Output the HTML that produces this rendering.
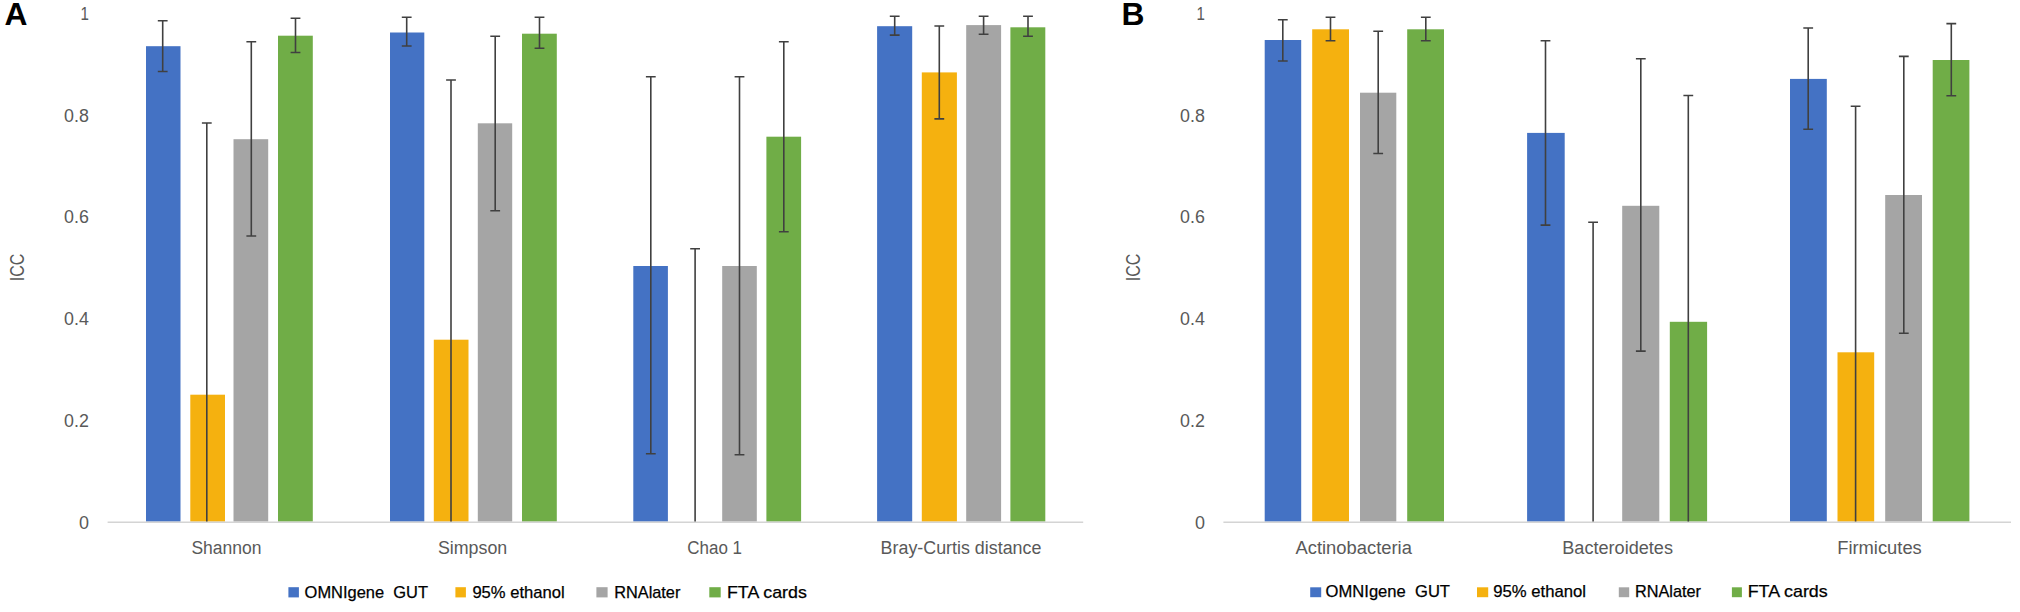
<!DOCTYPE html>
<html lang="en">
<head>
<meta charset="utf-8">
<title>ICC by stool collection method</title>
<style>
html,body{margin:0;padding:0;background:#fff;}
body{width:2020px;height:612px;overflow:hidden;}
svg{display:block;}
.ax{font-family:"Liberation Sans",sans-serif;font-size:17.6px;fill:#595959;}
.lg{font-family:"Liberation Sans",sans-serif;font-size:16.6px;fill:#000;stroke:#000;stroke-width:0.25;}
.pl{font-family:"Liberation Sans",sans-serif;font-size:31.8px;font-weight:700;fill:#000;}
.eb{stroke:#404040;stroke-width:1.6;fill:none;}
.axl{stroke:#d4d4d4;stroke-width:1.6;}
</style>
</head>
<body>
<svg width="2020" height="612" viewBox="0 0 2020 612">
<rect x="0" y="0" width="2020" height="612" fill="#ffffff"/>

<g shape-rendering="auto">
<rect x="146" y="46.2" width="34.5" height="475.4" fill="#4472c4"/>
<rect x="190.3" y="394.7" width="34.7" height="126.9" fill="#f5b10f"/>
<rect x="233.5" y="139.2" width="34.7" height="382.4" fill="#a5a5a5"/>
<rect x="278" y="35.7" width="34.8" height="485.9" fill="#70ad47"/>
<rect x="390" y="32.5" width="34.3" height="489.1" fill="#4472c4"/>
<rect x="433.8" y="339.7" width="34.7" height="181.9" fill="#f5b10f"/>
<rect x="477.8" y="123.3" width="34.4" height="398.3" fill="#a5a5a5"/>
<rect x="522" y="33.7" width="34.8" height="487.9" fill="#70ad47"/>
<rect x="633.3" y="266" width="34.6" height="255.6" fill="#4472c4"/>
<rect x="722.2" y="266" width="34.6" height="255.6" fill="#a5a5a5"/>
<rect x="766.4" y="136.7" width="34.7" height="384.9" fill="#70ad47"/>
<rect x="877.1" y="26.2" width="35.1" height="495.4" fill="#4472c4"/>
<rect x="921.8" y="72.4" width="35.1" height="449.2" fill="#f5b10f"/>
<rect x="966.2" y="25.1" width="34.9" height="496.5" fill="#a5a5a5"/>
<rect x="1010.4" y="27.3" width="34.9" height="494.3" fill="#70ad47"/>
<rect x="1264.7" y="40" width="36.5" height="481.6" fill="#4472c4"/>
<rect x="1312.2" y="29.3" width="36.8" height="492.3" fill="#f5b10f"/>
<rect x="1360" y="92.7" width="36.3" height="428.9" fill="#a5a5a5"/>
<rect x="1407.2" y="29.3" width="36.8" height="492.3" fill="#70ad47"/>
<rect x="1527.1" y="132.9" width="37.6" height="388.7" fill="#4472c4"/>
<rect x="1622.2" y="205.8" width="37.1" height="315.8" fill="#a5a5a5"/>
<rect x="1669.8" y="321.8" width="37.3" height="199.8" fill="#70ad47"/>
<rect x="1790" y="78.9" width="36.8" height="442.7" fill="#4472c4"/>
<rect x="1837.5" y="352.3" width="36.7" height="169.3" fill="#f5b10f"/>
<rect x="1885.2" y="195" width="36.8" height="326.6" fill="#a5a5a5"/>
<rect x="1932.7" y="60" width="36.7" height="461.6" fill="#70ad47"/>
</g>
<line class="axl" x1="107.6" y1="522.2" x2="1083.2" y2="522.2"/>
<line class="axl" x1="1223.4" y1="522.2" x2="2011" y2="522.2"/>
<g class="eb">
<path d="M157.79999999999998 20.7H167.6M162.7 20.7V71.5M157.79999999999998 71.5H167.6"/>
<path d="M201.9 123H211.70000000000002M206.8 123V521.6"/>
<path d="M246.4 41.7H256.2M251.3 41.7V236M246.4 236H256.2"/>
<path d="M290.6 18.3H300.4M295.5 18.3V52.5M290.6 52.5H300.4"/>
<path d="M401.8 17.3H411.59999999999997M406.7 17.3V46M401.8 46H411.59999999999997"/>
<path d="M446.1 80H455.9M451 80V521.6"/>
<path d="M490.3 36.3H500.09999999999997M495.2 36.3V210.7M490.3 210.7H500.09999999999997"/>
<path d="M534.6 17.3H544.4M539.5 17.3V48.3M534.6 48.3H544.4"/>
<path d="M645.9 76.7H655.6999999999999M650.8 76.7V453.7M645.9 453.7H655.6999999999999"/>
<path d="M690.2 248.7H700.0M695.1 248.7V521.6"/>
<path d="M734.6 76.7H744.4M739.5 76.7V454.7M734.6 454.7H744.4"/>
<path d="M778.9 41.7H788.6999999999999M783.8 41.7V231.8M778.9 231.8H788.6999999999999"/>
<path d="M889.8000000000001 16.2H899.6M894.7 16.2V35.1M889.8000000000001 35.1H899.6"/>
<path d="M934.4 26H944.1999999999999M939.3 26V118.9M934.4 118.9H944.1999999999999"/>
<path d="M978.7 16.2H988.5M983.6 16.2V34.2M978.7 34.2H988.5"/>
<path d="M1023.1 16.2H1032.9M1028 16.2V36.2M1023.1 36.2H1032.9"/>
<path d="M1277.8999999999999 19.7H1287.7M1282.8 19.7V61M1277.8999999999999 61H1287.7"/>
<path d="M1325.6 17.3H1335.4M1330.5 17.3V40.7M1325.6 40.7H1335.4"/>
<path d="M1373.3 31.2H1383.1000000000001M1378.2 31.2V153.5M1373.3 153.5H1383.1000000000001"/>
<path d="M1420.8999999999999 17.3H1430.7M1425.8 17.3V40.7M1420.8999999999999 40.7H1430.7"/>
<path d="M1540.6 40.7H1550.4M1545.5 40.7V225.1M1540.6 225.1H1550.4"/>
<path d="M1588.1999999999998 222.2H1598.0M1593.1 222.2V521.6"/>
<path d="M1635.8999999999999 58.7H1645.7M1640.8 58.7V351.1M1635.8999999999999 351.1H1645.7"/>
<path d="M1683.3999999999999 95.5H1693.2M1688.3 95.5V521.6"/>
<path d="M1803.3 28H1813.1000000000001M1808.2 28V129.3M1803.3 129.3H1813.1000000000001"/>
<path d="M1850.6999999999998 106.2H1860.5M1855.6 106.2V521.6"/>
<path d="M1898.8999999999999 56.4H1908.7M1903.8 56.4V333.3M1898.8999999999999 333.3H1908.7"/>
<path d="M1946.3999999999999 23.6H1956.2M1951.3 23.6V95.8M1946.3999999999999 95.8H1956.2"/>
</g>
<text class="ax" x="78.9" y="528.8" text-anchor="start" textLength="10.0" lengthAdjust="spacingAndGlyphs">0</text>
<text class="ax" x="1194.9" y="528.8" text-anchor="start" textLength="10.0" lengthAdjust="spacingAndGlyphs">0</text>
<text class="ax" x="64.10000000000001" y="427.0" text-anchor="start" textLength="24.8" lengthAdjust="spacingAndGlyphs">0.2</text>
<text class="ax" x="1180.1000000000001" y="427.0" text-anchor="start" textLength="24.8" lengthAdjust="spacingAndGlyphs">0.2</text>
<text class="ax" x="64.10000000000001" y="325.2" text-anchor="start" textLength="24.8" lengthAdjust="spacingAndGlyphs">0.4</text>
<text class="ax" x="1180.1000000000001" y="325.2" text-anchor="start" textLength="24.8" lengthAdjust="spacingAndGlyphs">0.4</text>
<text class="ax" x="64.10000000000001" y="223.4" text-anchor="start" textLength="24.8" lengthAdjust="spacingAndGlyphs">0.6</text>
<text class="ax" x="1180.1000000000001" y="223.4" text-anchor="start" textLength="24.8" lengthAdjust="spacingAndGlyphs">0.6</text>
<text class="ax" x="64.10000000000001" y="121.6" text-anchor="start" textLength="24.8" lengthAdjust="spacingAndGlyphs">0.8</text>
<text class="ax" x="1180.1000000000001" y="121.6" text-anchor="start" textLength="24.8" lengthAdjust="spacingAndGlyphs">0.8</text>
<text class="ax" x="80.5" y="19.8" text-anchor="start" textLength="8.4" lengthAdjust="spacingAndGlyphs">1</text>
<text class="ax" x="1196.5" y="19.8" text-anchor="start" textLength="8.4" lengthAdjust="spacingAndGlyphs">1</text>
<text class="ax" style="font-size:19.4px" transform="translate(24.3 281.2) rotate(-90)" textLength="27.6" lengthAdjust="spacingAndGlyphs">ICC</text>
<text class="ax" style="font-size:19.4px" transform="translate(1140.3 281.2) rotate(-90)" textLength="27.6" lengthAdjust="spacingAndGlyphs">ICC</text>
<text class="ax" x="191.4" y="554.2" text-anchor="start" textLength="70.2" lengthAdjust="spacingAndGlyphs">Shannon</text>
<text class="ax" x="437.9" y="554.2" text-anchor="start" textLength="69.3" lengthAdjust="spacingAndGlyphs">Simpson</text>
<text class="ax" x="687.3" y="554.2" text-anchor="start" textLength="54.7" lengthAdjust="spacingAndGlyphs">Chao 1</text>
<text class="ax" x="880.6" y="554.2" text-anchor="start" textLength="160.8" lengthAdjust="spacingAndGlyphs">Bray-Curtis distance</text>
<text class="ax" x="1295.5" y="554.2" text-anchor="start" textLength="116.4" lengthAdjust="spacingAndGlyphs">Actinobacteria</text>
<text class="ax" x="1562.3" y="554.2" text-anchor="start" textLength="110.7" lengthAdjust="spacingAndGlyphs">Bacteroidetes</text>
<text class="ax" x="1837.2" y="554.2" text-anchor="start" textLength="84.6" lengthAdjust="spacingAndGlyphs">Firmicutes</text>
<text class="pl" x="4.6" y="25.2">A</text>
<text class="pl" x="1121.4" y="24.6">B</text>
<rect x="288.4" y="587.2" width="10.5" height="10.2" fill="#4472c4"/>
<text class="lg" x="304.6" y="598.3" text-anchor="start" textLength="123.4" lengthAdjust="spacingAndGlyphs" xml:space="preserve">OMNIgene  GUT</text>
<rect x="455.4" y="587.2" width="10.5" height="10.2" fill="#f5b10f"/>
<text class="lg" x="472.4" y="598.3" text-anchor="start" textLength="92.3" lengthAdjust="spacingAndGlyphs" xml:space="preserve">95% ethanol</text>
<rect x="596.4" y="587.2" width="11.2" height="10.2" fill="#a5a5a5"/>
<text class="lg" x="614.2" y="597.8" text-anchor="start" textLength="66.2" lengthAdjust="spacingAndGlyphs" xml:space="preserve">RNAlater</text>
<rect x="709.3" y="587.2" width="11.4" height="10.2" fill="#70ad47"/>
<text class="lg" x="727" y="598.3" text-anchor="start" textLength="79.8" lengthAdjust="spacingAndGlyphs" xml:space="preserve">FTA cards</text>
<rect x="1310.2" y="587.3" width="11.0" height="9.9" fill="#4472c4"/>
<text class="lg" x="1325.6" y="596.8" text-anchor="start" textLength="124.4" lengthAdjust="spacingAndGlyphs" xml:space="preserve">OMNIgene  GUT</text>
<rect x="1477" y="587.3" width="11.2" height="9.9" fill="#f5b10f"/>
<text class="lg" x="1493.2" y="596.8" text-anchor="start" textLength="92.8" lengthAdjust="spacingAndGlyphs" xml:space="preserve">95% ethanol</text>
<rect x="1618.8" y="587.3" width="10.4" height="9.9" fill="#a5a5a5"/>
<text class="lg" x="1635" y="596.8" text-anchor="start" textLength="66" lengthAdjust="spacingAndGlyphs" xml:space="preserve">RNAlater</text>
<rect x="1731.9" y="587.3" width="10.0" height="9.9" fill="#70ad47"/>
<text class="lg" x="1747.7" y="596.8" text-anchor="start" textLength="80.0" lengthAdjust="spacingAndGlyphs" xml:space="preserve">FTA cards</text>
</svg>
</body>
</html>
